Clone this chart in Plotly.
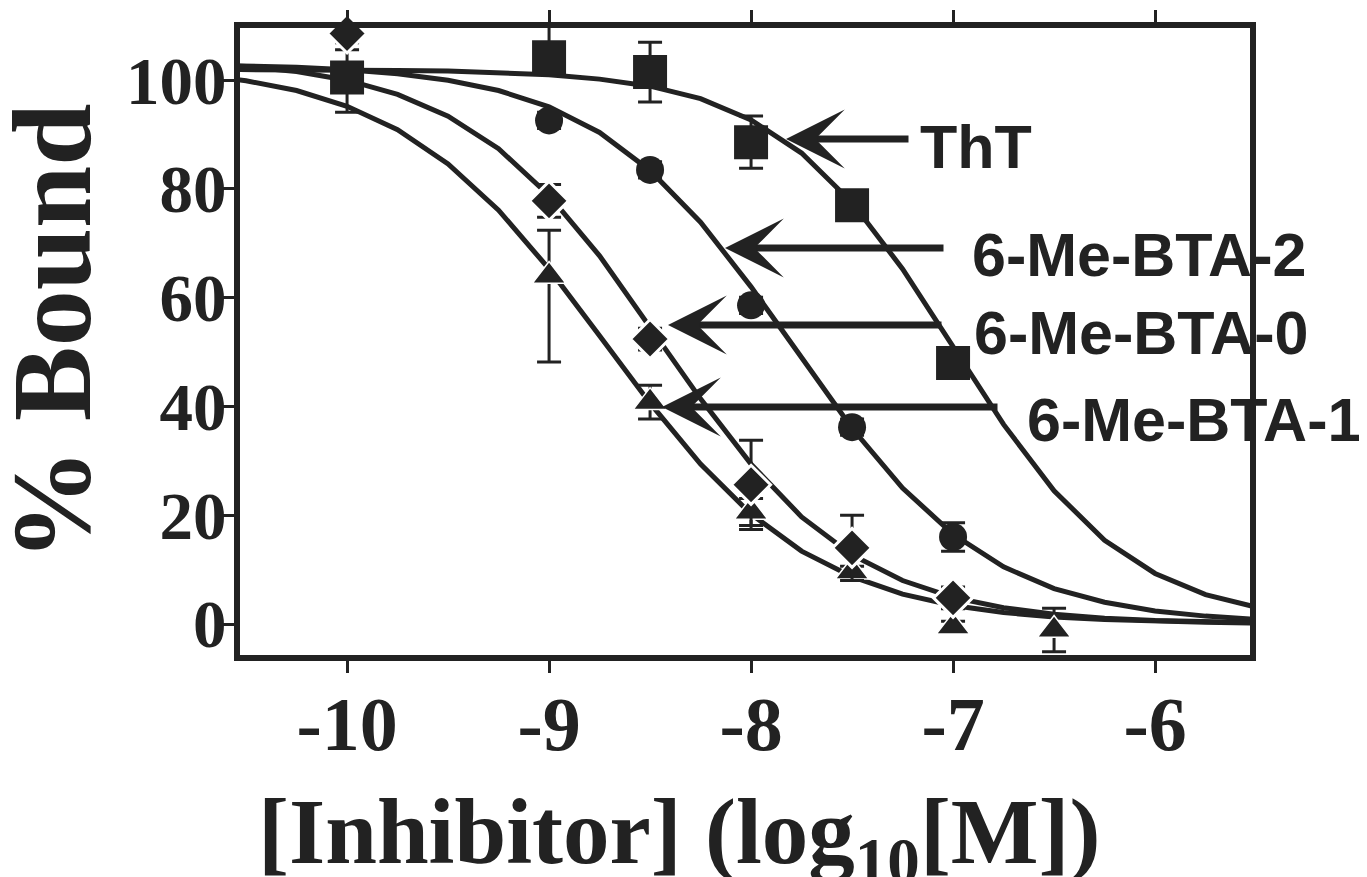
import plotly.graph_objects as go

# ---------------- data ----------------
X_PTS = [-10, -9, -8.5, -8, -7.5, -7]
THT_Y = [100.5, 104.2, 101.5, 88.6, 77.0, 48.0]
THT_EP = [6.4, 8.3, 5.5, 4.8, 1.5, 1.5]
THT_EM = [6.4, 3.0, 5.5, 4.8, 1.5, 1.5]

BTA2_X = [-9, -8.5, -8, -7.5, -7]
BTA2_Y = [92.6, 83.5, 58.6, 36.2, 16.0]
BTA2_E = [1.5, 1.5, 1.5, 1.5, 2.6]

BTA0_X = [-10, -9, -8.5, -8, -7.5, -7]
BTA0_Y = [108.6, 77.8, 52.4, 25.6, 14.0, 4.8]
BTA0_E = [3.0, 3.0, 2.0, 8.2, 6.0, 2.0]

BTA1_X = [-9, -8.5, -8, -7.5, -7, -6.5]
BTA1_Y = [64.0, 40.8, 20.6, 9.6, -0.5, -1.1]
BTA1_EP = [8.4, 3.1, 2.5, 1.0, 1.0, 4.0]
BTA1_EM = [15.8, 3.1, 2.5, 1.0, 1.0, 4.0]

# fitted curves (at 0.25 log steps)
X_FIT = [-10.75, -10.5, -10.25, -10.0, -9.75, -9.5, -9.25, -9.0, -8.75, -8.5, -8.25,
         -8.0, -7.75, -7.5, -7.25, -7.0, -6.75, -6.5, -6.25, -6.0, -5.75, -5.5]
THT_FIT = [102.0, 102.0, 101.9, 101.9, 101.8, 101.7, 101.4, 101.0, 100.2, 98.9, 96.6,
           92.7, 86.6, 77.5, 65.3, 51.0, 36.7, 24.5, 15.4, 9.3, 5.4, 3.1]
BTA2_FIT = [102.8, 102.6, 102.4, 101.9, 101.2, 100.0, 98.1, 95.1, 90.4, 83.4, 73.9,
            62.0, 48.8, 36.0, 25.0, 16.5, 10.5, 6.5, 4.0, 2.4, 1.45, 0.87]
BTA0_FIT = [103.1, 102.5, 101.6, 100.0, 97.4, 93.4, 87.4, 78.8, 67.7, 54.7, 41.4,
            29.4, 19.7, 12.7, 8.0, 4.9, 3.0, 1.8, 1.08, 0.65, 0.39, 0.23]
BTA1_FIT = [101.1, 99.9, 98.1, 95.2, 90.9, 84.6, 76.1, 65.3, 53.0, 40.6, 29.4,
            20.2, 13.4, 8.7, 5.5, 3.4, 2.1, 1.3, 0.81, 0.50, 0.31, 0.19]

X_TICKS = [-10, -9, -8, -7, -6]
X_TICKTEXT = ["-10", "-9", "-8", "-7", "-6"]
Y_TICKS = [0, 20, 40, 60, 80, 100]
LABELS = ["ThT", "6-Me-BTA-2", "6-Me-BTA-0", "6-Me-BTA-1"]

INK = "#222222"
W, H = 1367, 877
PAGE = 8                      # default body margin of the html page
VL, VT, VR, VB = 240, 28, 1250, 655   # plot area in window pixels
PW, PH = VR - VL, VB - VT
L, T = VL - PAGE, VT - PAGE
R, B = W - L - PW, H - T - PH


def px_x(p):
    return (p - VL) / PW


def px_y(p):
    return (VB - p) / PH


fig = go.Figure()

for yv in [THT_FIT, BTA2_FIT, BTA0_FIT, BTA1_FIT]:
    fig.add_trace(go.Scatter(x=X_FIT, y=yv, mode="lines",
                             line=dict(color=INK, width=5), showlegend=False,
                             hoverinfo="skip"))

err = dict(color=INK, thickness=3, width=12)

fig.add_trace(go.Scatter(
    x=X_PTS, y=THT_Y, mode="markers", showlegend=False, cliponaxis=False,
    marker=dict(symbol="square", size=34, color=INK, line=dict(width=0)),
    error_y=dict(type="data", array=THT_EP, arrayminus=THT_EM, symmetric=False, **err)))
fig.add_trace(go.Scatter(
    x=BTA2_X, y=BTA2_Y, mode="markers", showlegend=False, cliponaxis=False,
    marker=dict(symbol="circle", size=28, color=INK, line=dict(width=0)),
    error_y=dict(type="data", array=BTA2_E, **err)))
fig.add_trace(go.Scatter(
    x=BTA1_X, y=BTA1_Y, mode="markers", showlegend=False, cliponaxis=False,
    marker=dict(symbol="triangle-up", size=29, color=INK, line=dict(width=1.5, color="white")),
    error_y=dict(type="data", array=BTA1_EP, arrayminus=BTA1_EM, symmetric=False, **err)))
fig.add_trace(go.Scatter(
    x=BTA0_X, y=BTA0_Y, mode="markers", showlegend=False, cliponaxis=False,
    marker=dict(symbol="diamond", size=30, color=INK, line=dict(width=3, color="white")),
    error_y=dict(type="data", array=BTA0_E, **err)))

serif = "Liberation Serif"
sans = "Liberation Sans"

fig.update_xaxes(
    range=[-10.53, -5.53], tickvals=X_TICKS, ticktext=X_TICKTEXT, automargin=False,
    showgrid=False, zeroline=False, showline=True, linecolor=INK, linewidth=6,
    mirror="ticks", ticks="outside", ticklen=12, tickwidth=3, tickcolor=INK,
    tickfont=dict(family=serif, size=76, color=INK, weight="bold"),
    ticklabelstandoff=-14)
fig.update_yaxes(
    range=[-5.7, 109.6], tickvals=Y_TICKS, automargin=False,
    showgrid=False, zeroline=False, showline=True, linecolor=INK, linewidth=6,
    mirror=True, ticks="outside", ticklen=12, tickwidth=3, tickcolor=INK,
    tickfont=dict(family=serif, size=67, color=INK, weight="bold"),
    ticklabelstandoff=-18)

ann = []
# axis titles
ann.append(dict(text="[Inhibitor] (log<sub>10</sub>[M])", xref="paper", yref="paper",
                x=px_x(679), y=px_y(838), xanchor="center", yanchor="middle",
                showarrow=False, font=dict(family=serif, size=93, color=INK, weight="bold")))
ann.append(dict(text="% Bound", xref="paper", yref="paper", textangle=-90,
                x=px_x(52), y=px_y(332), xanchor="center", yanchor="middle",
                showarrow=False, font=dict(family=serif, size=112, color=INK, weight="bold")))

# arrows: (tip_x_px, tip_y_px, tail_x_px)
arrows = [(786, 139, 910), (725, 248, 945), (668, 325, 943), (662, 407, 999)]
for tx, ty, tail in arrows:
    ann.append(dict(text="", xref="paper", yref="paper", x=px_x(tx), y=px_y(ty),
                    ax=tail - tx, ay=0, axref="pixel", ayref="pixel",
                    showarrow=True, arrowhead=3, arrowsize=1.4, arrowwidth=7,
                    arrowcolor=INK, standoff=0))

# labels: (left_px, center_y_px)
label_pos = [(918, 147), (970, 255), (972, 333), (1025, 420)]
for lab, (lx, ly) in zip(LABELS, label_pos):
    ann.append(dict(text=lab, xref="paper", yref="paper", x=px_x(lx), y=px_y(ly),
                    xanchor="left", yanchor="middle", showarrow=False,
                    font=dict(family=sans, size=61, color=INK, weight="bold")))

fig.update_layout(
    width=W, height=H, autosize=False,
    margin=dict(l=L, r=R, t=T, b=B, pad=0),
    paper_bgcolor="white", plot_bgcolor="white",
    annotations=ann, showlegend=False)

fig.write_html("out.html")
